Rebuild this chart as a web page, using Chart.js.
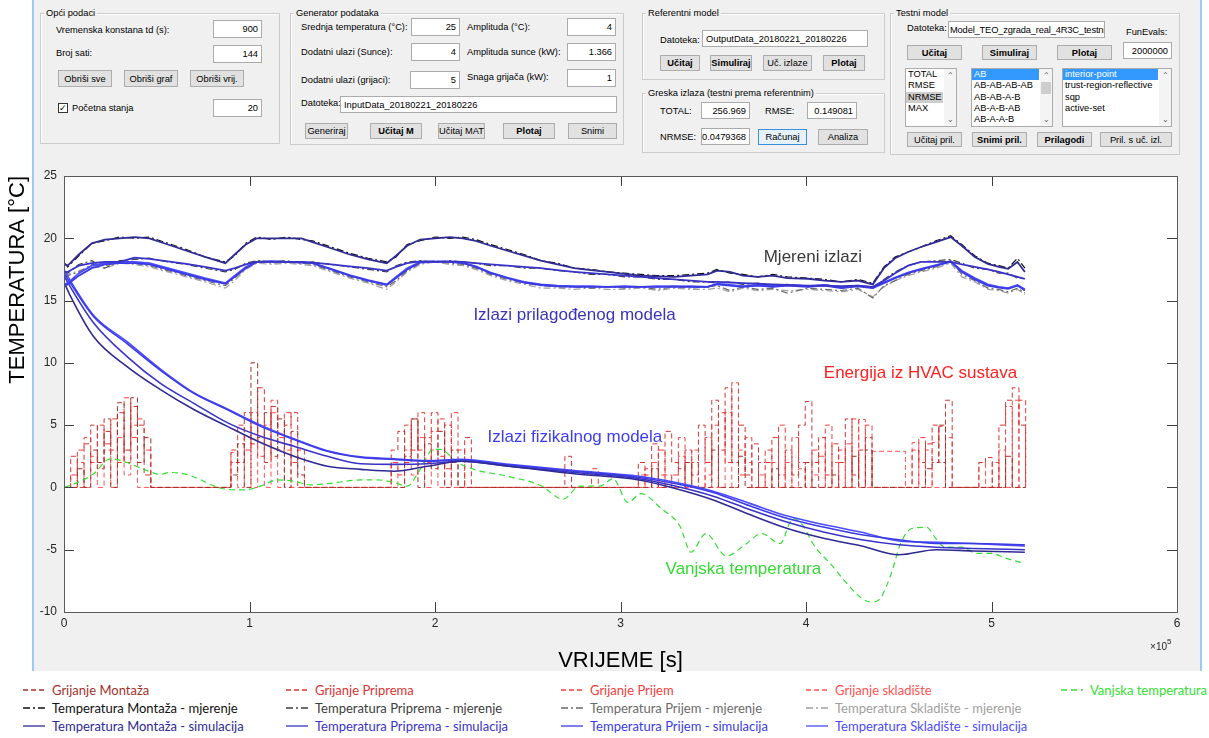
<!DOCTYPE html>
<html>
<head>
<meta charset="utf-8">
<title>Testni model</title>
<script src="https://cdn.jsdelivr.net/npm/chart.js@4.4.1/dist/chart.umd.min.js"></script>
<style>
  body { margin:0; width:1209px; height:738px; position:relative; overflow:hidden; background:#fff; font-family:"Liberation Sans", Arial, sans-serif; color:#000; }
  #win { position:absolute; left:32px; top:0; width:1170px; height:671px; background:#f0f0f0; border-left:2px solid #9ccaf2; border-right:2px solid #9ccaf2; box-sizing:border-box; }
  .panel { position:absolute; border:1px solid #cbcbcb; box-shadow:inset 1px 1px 0 #fff; }
  .panel > span { position:absolute; left:3px; top:-7px; padding:0 2px; background:#f0f0f0; font-size:9.3px; line-height:12px; white-space:nowrap; }
  .lbl { position:absolute; font-size:9.3px; line-height:12px; white-space:nowrap; }
  .ed { position:absolute; background:#fff; border:1px solid #ababab; box-sizing:border-box; font-size:9.3px; padding:0 3px; white-space:nowrap; overflow:hidden; display:flex; align-items:center; justify-content:flex-end; }
  .ed.l { justify-content:flex-start; }
  .ed.n { padding:0 1px; letter-spacing:-0.15px; }
  .bt { position:absolute; background:#e1e1e1; border:1px solid #adadad; box-sizing:border-box; font-size:9.3px; display:flex; align-items:center; justify-content:center; white-space:nowrap; }
  .bt.b { font-weight:bold; }
  .bt.f { border-color:#3c8fd8; background:#e5f1fb; }
  .lb { position:absolute; background:#fff; border:1px solid #ababab; box-sizing:border-box; font-size:9.3px; line-height:11.3px; overflow:hidden; }
  .lb div.it { padding-left:2px; white-space:nowrap; margin-right:13px; }
  .lb .s { background:#3399ff; color:#fff; }
  .lb .g { background:#cdcdcd; }
  .sb { position:absolute; right:0; top:0; width:12px; height:100%; background:#f4f4f4; font-size:8px; color:#606060; }
  .sb .up { position:absolute; top:1px; width:12px; text-align:center; }
  .sb .dn { position:absolute; bottom:1px; width:12px; text-align:center; }
  .sb .th { position:absolute; top:13px; left:1px; width:10px; height:12px; background:#cdcdcd; }
  .cb { position:absolute; width:10px; height:10px; border:1px solid #333; background:#fff; box-sizing:border-box; font-size:9px; line-height:8px; text-align:center; }
  #c { position:absolute; left:0; top:155px; }
  .lg { position:absolute; font-family:Lato, "Liberation Sans", sans-serif; font-size:13px; line-height:16px; white-space:nowrap; }
  .lg svg { position:absolute; left:0; top:6px; }
  .lg span { position:absolute; left:30px; top:0; }
</style>
</head>
<body>
<div id="win"></div>

<!-- Opći podaci -->
<div class="panel" style="left:40px;top:13px;width:238px;height:129px;"><span>Opći podaci</span></div>
<div class="lbl" style="left:56px;top:24px;">Vremenska konstana td (s):</div>
<div class="ed" style="left:213px;top:20px;width:49px;height:18px;">900</div>
<div class="lbl" style="left:56px;top:47px;">Broj sati:</div>
<div class="ed" style="left:213px;top:45px;width:49px;height:18px;">144</div>
<div class="bt" style="left:58px;top:70px;width:54px;height:17px;">Obriši sve</div>
<div class="bt" style="left:124px;top:70px;width:54px;height:17px;">Obriši graf</div>
<div class="bt" style="left:190px;top:70px;width:54px;height:17px;">Obriši vrij.</div>
<div class="cb" style="left:58px;top:103px;">&#10003;</div>
<div class="lbl" style="left:72px;top:102px;">Početna stanja</div>
<div class="ed" style="left:213px;top:99px;width:49px;height:18px;">20</div>

<!-- Generator podataka -->
<div class="panel" style="left:290px;top:13px;width:332px;height:130px;"><span>Generator podataka</span></div>
<div class="lbl" style="left:301px;top:21px;">Srednja temperatura (°C):</div>
<div class="ed" style="left:411px;top:18px;width:49px;height:18px;">25</div>
<div class="lbl" style="left:467px;top:21px;">Amplituda (°C):</div>
<div class="ed" style="left:567px;top:18px;width:49px;height:18px;">4</div>
<div class="lbl" style="left:301px;top:46px;">Dodatni ulazi (Sunce):</div>
<div class="ed" style="left:411px;top:43px;width:49px;height:18px;">4</div>
<div class="lbl" style="left:467px;top:46px;">Amplituda sunce (kW):</div>
<div class="ed" style="left:567px;top:43px;width:49px;height:18px;">1.366</div>
<div class="lbl" style="left:301px;top:74px;">Dodatni ulazi (grijaci):</div>
<div class="ed" style="left:410px;top:71px;width:50px;height:18px;">5</div>
<div class="lbl" style="left:467px;top:71px;">Snaga grijača (kW):</div>
<div class="ed" style="left:567px;top:69px;width:49px;height:18px;">1</div>
<div class="lbl" style="left:301px;top:97px;">Datoteka:</div>
<div class="ed l" style="left:340px;top:96px;width:277px;height:17px;">InputData_20180221_20180226</div>
<div class="bt" style="left:305px;top:123px;width:43px;height:16px;">Generiraj</div>
<div class="bt b" style="left:370px;top:123px;width:52px;height:16px;">Učitaj M</div>
<div class="bt" style="left:438px;top:123px;width:47px;height:16px;">Učitaj MAT</div>
<div class="bt b" style="left:503px;top:123px;width:52px;height:16px;">Plotaj</div>
<div class="bt" style="left:568px;top:123px;width:49px;height:16px;">Snimi</div>

<!-- Referentni model -->
<div class="panel" style="left:642px;top:13px;width:241px;height:65px;"><span>Referentni model</span></div>
<div class="lbl" style="left:660px;top:34px;">Datoteka:</div>
<div class="ed l" style="left:702px;top:30px;width:166px;height:17px;">OutputData_20180221_20180226</div>
<div class="bt b" style="left:660px;top:55px;width:40px;height:16px;">Učitaj</div>
<div class="bt b" style="left:710px;top:55px;width:42px;height:16px;">Simuliraj</div>
<div class="bt" style="left:763px;top:55px;width:49px;height:16px;">Uč. izlaze</div>
<div class="bt b" style="left:823px;top:55px;width:42px;height:16px;">Plotaj</div>

<!-- Greska izlaza -->
<div class="panel" style="left:642px;top:93px;width:241px;height:58px;"><span>Greska izlaza (testni prema referentnim)</span></div>
<div class="lbl" style="left:660px;top:105px;">TOTAL:</div>
<div class="ed" style="left:701px;top:102px;width:49px;height:17px;">256.969</div>
<div class="lbl" style="left:765px;top:105px;">RMSE:</div>
<div class="ed" style="left:807px;top:102px;width:50px;height:17px;">0.149081</div>
<div class="lbl" style="left:660px;top:131px;">NRMSE:</div>
<div class="ed" style="left:701px;top:128px;width:49px;height:17px;">0.0479368</div>
<div class="bt f" style="left:758px;top:129px;width:49px;height:16px;">Računaj</div>
<div class="bt" style="left:818px;top:129px;width:50px;height:16px;">Analiza</div>

<!-- Testni model -->
<div class="panel" style="left:890px;top:13px;width:288px;height:140px;"><span>Testni model</span></div>
<div class="lbl" style="left:907px;top:22px;">Datoteka:</div>
<div class="ed l n" style="left:948px;top:21px;width:157px;height:17px;">Model_TEO_zgrada_real_4R3C_testni</div>
<div class="lbl" style="left:1126px;top:26px;">FunEvals:</div>
<div class="bt b" style="left:907px;top:45px;width:55px;height:15px;">Učitaj</div>
<div class="bt b" style="left:982px;top:45px;width:55px;height:15px;">Simuliraj</div>
<div class="bt b" style="left:1057px;top:45px;width:55px;height:15px;">Plotaj</div>
<div class="ed" style="left:1123px;top:42px;width:49px;height:17px;">2000000</div>
<div class="lb" style="left:905px;top:68px;width:52px;height:59px;">
  <div class="it">TOTAL</div><div class="it">RMSE</div><div class="it g">NRMSE</div><div class="it">MAX</div>
  <div class="sb"><div class="up">&#8963;</div><div class="dn">&#8964;</div></div>
</div>
<div class="lb" style="left:971px;top:68px;width:82px;height:59px;">
  <div class="it s">AB</div><div class="it">AB-AB-AB-AB</div><div class="it">AB-AB-A-B</div><div class="it">AB-A-B-AB</div><div class="it">AB-A-A-B</div>
  <div class="sb"><div class="up">&#8963;</div><div class="th"></div><div class="dn">&#8964;</div></div>
</div>
<div class="lb" style="left:1062px;top:68px;width:110px;height:59px;">
  <div class="it s">interior-point</div><div class="it">trust-region-reflective</div><div class="it">sqp</div><div class="it">active-set</div>
  <div class="sb"><div class="up">&#8963;</div><div class="dn">&#8964;</div></div>
</div>
<div class="bt" style="left:907px;top:132px;width:55px;height:15px;">Učitaj pril.</div>
<div class="bt b" style="left:972px;top:132px;width:55px;height:15px;">Snimi pril.</div>
<div class="bt b" style="left:1037px;top:132px;width:55px;height:15px;">Prilagodi</div>
<div class="bt" style="left:1100px;top:132px;width:72px;height:15px;">Pril. s uč. izl.</div>

<canvas id="c" width="1209" height="520"></canvas>
<div id="legend"></div>

<script>
// room temperatures (fitted model + measurements), time in 10^5 s
var tRoom = [0, 0.02, 0.08, 0.15, 0.22, 0.30, 0.38, 0.46, 0.56, 0.66, 0.76, 0.87,
  0.92, 0.98, 1.04, 1.12, 1.20, 1.28, 1.34, 1.44, 1.54, 1.64, 1.74,
  1.79, 1.85, 1.92, 2.00, 2.08, 2.15,
  2.22, 2.30, 2.39, 2.48, 2.57, 2.66, 2.75, 2.84, 2.93,
  3.02, 3.11, 3.20, 3.29, 3.38, 3.47,
  3.52, 3.59, 3.66, 3.74, 3.82, 3.90,
  4.01, 4.10, 4.19, 4.28, 4.36,
  4.42, 4.48, 4.55, 4.62, 4.70, 4.78,
  4.84, 4.91, 4.98, 5.04, 5.09, 5.14, 5.18];

var simMontaza = [18.0, 17.8, 18.7, 19.6, 19.9, 20.0, 20.1, 20.0, 19.5, 19.0, 18.5, 18.0,
  18.7, 19.5, 20.0, 20.0, 20.0, 20.0, 19.7, 19.2, 18.7, 18.3, 18.0,
  18.6, 19.4, 19.9, 20.0, 20.1, 20.0,
  19.8, 19.4, 19.0, 18.6, 18.2, 17.9, 17.6, 17.45, 17.3,
  17.15, 17.0, 16.95, 16.9, 17.0, 17.1,
  17.4, 17.3, 17.0, 16.9, 17.0, 16.8,
  16.75, 16.6, 16.5, 16.6, 16.3,
  17.6, 18.4, 18.9, 19.3, 19.7, 20.1,
  19.4, 18.5, 17.95, 17.7, 17.55, 18.1, 17.3];
var mjMontaza = [18.0, 17.7, 18.6, 19.6, 19.8, 20.1, 20.0, 20.1, 19.6, 19.1, 18.5, 18.1,
  18.6, 19.6, 20.1, 19.9, 20.1, 19.9, 19.8, 19.3, 18.8, 18.4, 18.1,
  18.5, 19.5, 19.8, 20.1, 20.0, 20.1,
  19.9, 19.5, 19.1, 18.7, 18.2, 18.0, 17.6, 17.5, 17.3,
  17.2, 17.1, 17.0, 17.0, 17.1, 17.2,
  17.5, 17.2, 17.1, 16.9, 17.1, 16.9,
  16.8, 16.7, 16.5, 16.7, 16.4,
  17.7, 18.5, 18.9, 19.3, 19.8, 20.2,
  19.5, 18.6, 18.0, 17.8, 17.6, 18.4, 17.6];
var simPriprema = [17.3, 17.3, 17.8, 18.0, 18.1, 18.1, 18.45, 18.35, 18.15, 17.95, 17.7, 17.4,
  17.6, 17.9, 18.1, 18.15, 18.1, 18.1, 18.05, 17.9, 17.75, 17.6, 17.4,
  17.7, 18.0, 18.15, 18.1, 18.15, 18.1,
  18.0, 17.9, 17.8, 17.7, 17.6, 17.45, 17.3, 17.2, 17.1,
  17.0, 16.9, 16.8, 16.7, 16.6, 16.5,
  16.5, 16.45, 16.4, 16.35, 16.3, 16.25,
  16.2, 16.2, 16.15, 16.2, 16.1,
  16.6, 17.2, 17.8, 18.1, 18.1, 18.1,
  17.9, 17.7, 17.5, 17.3, 17.1, 16.9, 16.75];
var mjPriprema = [17.3, 17.2, 17.9, 18.2, 17.6, 18.2, 18.3, 18.4, 18.1, 17.9, 17.6, 17.3,
  17.5, 18.0, 18.2, 18.1, 18.2, 18.0, 18.1, 17.9, 17.7, 17.5, 17.3,
  17.8, 18.1, 18.2, 18.1, 18.2, 18.1,
  18.0, 17.8, 17.8, 17.6, 17.6, 17.4, 17.3, 17.1, 17.1,
  16.9, 16.9, 16.7, 16.7, 16.5, 16.5,
  16.4, 16.5, 16.3, 16.4, 16.2, 16.3,
  16.1, 16.3, 16.0, 16.2, 16.0,
  16.7, 17.3, 17.8, 18.1, 18.2, 18.3,
  18.0, 17.6, 17.5, 17.2, 17.2, 16.8, 16.8];
var simPrijem = [16.2, 16.3, 17.0, 17.6, 17.9, 18.0, 18.0, 17.9, 17.5, 17.1, 16.7, 16.35,
  16.9, 17.6, 18.1, 18.1, 18.1, 18.05, 18.0, 17.5, 17.0, 16.6, 16.25,
  16.8, 17.5, 18.05, 18.1, 18.1, 18.0,
  17.7, 17.2, 16.8, 16.45, 16.25, 16.15, 16.1, 16.1, 16.1,
  16.1, 16.1, 16.1, 16.15, 16.1, 16.1,
  16.3, 16.2, 16.1, 16.2, 16.1, 16.2,
  16.1, 16.2, 16.0, 16.15, 16.0,
  16.4, 16.8, 17.2, 17.5, 17.8, 18.1,
  17.3, 16.7, 16.2, 16.05, 15.95, 16.2, 15.8];
var mjPrijem = [16.9, 17.0, 17.3, 17.9, 17.8, 18.1, 18.0, 17.8, 17.4, 17.0, 16.6, 16.2,
  16.8, 17.6, 18.2, 18.0, 18.1, 18.0, 17.9, 17.4, 16.9, 16.5, 16.1,
  16.6, 17.4, 18.0, 18.2, 18.0, 17.9,
  17.6, 17.1, 16.7, 16.4, 16.2, 16.1, 16.1, 16.0, 16.1,
  16.0, 16.1, 15.9, 16.1, 16.0, 16.1,
  16.2, 15.8, 16.1, 15.9, 16.0, 15.6,
  16.0, 15.9, 15.8, 16.0, 15.2,
  16.2, 16.6, 17.1, 17.4, 17.7, 18.2,
  17.1, 16.6, 16.0, 15.9, 15.7, 16.0, 15.6];
var simSkladiste = [16.3, 16.4, 17.2, 17.8, 18.0, 18.1, 18.1, 18.0, 17.6, 17.2, 16.8, 16.4,
  17.0, 17.7, 18.1, 18.15, 18.1, 18.1, 18.0, 17.55, 17.05, 16.65, 16.3,
  16.9, 17.6, 18.1, 18.15, 18.1, 18.05,
  17.75, 17.25, 16.85, 16.5, 16.3, 16.2, 16.15, 16.15, 16.1,
  16.15, 16.1, 16.15, 16.1, 16.15, 16.1,
  16.35, 16.25, 16.15, 16.25, 16.15, 16.25,
  16.15, 16.25, 16.05, 16.2, 16.05,
  16.45, 16.85, 17.25, 17.55, 17.85, 18.15,
  17.4, 16.8, 16.3, 16.1, 16.0, 16.25, 15.9];
var mjSkladiste = [17.2, 17.1, 17.4, 17.7, 17.6, 18.0, 17.9, 17.7, 17.3, 16.9, 16.5, 16.0,
  16.6, 17.5, 18.0, 17.9, 18.0, 17.9, 17.8, 17.3, 16.8, 16.4, 15.9,
  16.5, 17.3, 17.9, 18.1, 17.9, 17.8,
  17.5, 17.0, 16.6, 16.3, 16.0, 16.0, 15.9, 16.0, 15.9,
  15.9, 16.0, 15.8, 16.0, 15.9, 15.9,
  16.0, 15.7, 16.0, 15.8, 15.9, 15.8,
  15.9, 15.8, 15.7, 15.9, 15.3,
  16.1, 16.6, 17.0, 17.3, 17.6, 18.0,
  16.9, 16.5, 15.9, 15.8, 15.6, 15.9, 15.5];

// physical model outputs, time in 10^5 s
var tPhys = [0, 0.03, 0.16, 0.34, 0.52, 0.70, 0.88, 1.06, 1.24, 1.42, 1.60, 1.78, 1.96, 2.14,
  2.40, 2.75, 3.10, 3.30, 3.50, 3.70, 3.90, 4.10, 4.30, 4.50, 4.70, 4.90, 5.18];
var fizMontaza = [16.5, 15.5, 12.1, 9.7, 7.85, 6.25, 4.9, 3.6, 2.5, 1.7, 1.45, 1.3, 1.7, 2.1,
  1.7, 1.1, 0.6, -0.1, -1.0, -2.2, -3.3, -4.1, -4.7, -5.4, -5.0, -5.1, -5.2];
var fizPriprema = [17.0, 16.2, 13.2, 10.5, 8.35, 6.75, 5.2, 4.1, 3.3, 2.5, 1.9, 1.85, 1.9, 2.1,
  1.7, 1.2, 0.7, 0.1, -0.7, -1.8, -2.8, -3.6, -4.2, -4.6, -4.8, -4.9, -5.0];
var fizPrijem = [17.2, 16.5, 13.7, 11.55, 9.4, 7.55, 6.25, 4.9, 3.85, 2.9, 2.4, 2.25, 2.1, 2.2,
  1.8, 1.3, 0.8, 0.3, -0.4, -1.5, -2.5, -3.2, -3.8, -4.2, -4.5, -4.5, -4.6];
var fizSkladiste = [17.5, 16.7, 13.8, 11.7, 9.5, 7.6, 6.3, 5.0, 3.9, 2.95, 2.45, 2.3, 2.15, 2.25,
  1.85, 1.35, 0.9, 0.4, -0.3, -1.3, -2.3, -3.0, -3.6, -4.3, -4.4, -4.5, -4.7];

// outside temperature, time in 10^5 s
var tVanjska = [0, 0.05, 0.16, 0.25, 0.34, 0.43, 0.52, 0.57, 0.66, 0.73, 0.81, 0.88, 0.97, 1.06,
  1.15, 1.24, 1.33, 1.42, 1.60, 1.69, 1.78, 1.85, 1.92, 1.99, 2.03, 2.12, 2.21, 2.39, 2.57,
  2.69, 2.78, 2.89, 2.96, 3.04, 3.11, 3.22, 3.32, 3.38, 3.46, 3.57, 3.68, 3.76, 3.86, 3.93,
  3.97, 4.05, 4.13, 4.22, 4.30, 4.35, 4.40, 4.46, 4.51, 4.57, 4.65, 4.70, 4.75, 4.84, 4.92,
  5.00, 5.08, 5.18];
var vanjska = [0, 0.25, 1.1, 2.3, 2.0, 1.45, 1.05, 1.2, 1.05, 0.66, 0.1, -0.15, -0.2, 0.1,
  0.6, 0.5, 0.2, 0.3, 0.6, 0.6, 0.4, 0.1, 1.45, 3.05, 3.05, 2.0, 1.45, 0.9, 0.15,
  -0.95, 0.1, 0.1, 0.7, -1.2, -0.5, -1.7, -3.1, -5.2, -3.7, -5.5, -4.5, -3.7, -4.5, -2.5,
  -2.8, -4.8, -6.1, -7.7, -8.9, -9.2, -8.9, -6.9, -4.5, -3.3, -3.2, -4.1, -4.8, -4.8, -5.3,
  -5.3, -5.7, -6.1];

// heating energy, one value per hour (0..144 h)
var grijMontaza = [
  0, 0, 1.5, 0, 3, 2, 4.5, 0, 6.8, 3, 7.2, 2,
  4, 0, 0, 0, 0, 0, 0, 0, 0, 0, 0, 0,
  0, 1, 3.5, 0, 10, 4, 6, 2.5, 5.5, 0, 4.5, 1,
  0, 0, 0, 0, 0, 0, 0, 0, 0, 0, 0, 0,
  0, 0, 0, 2.5, 5.5, 0, 3.5, 1.5, 4.5, 0, 3, 0,
  0, 0, 0, 0, 0, 0, 0, 0, 0, 0, 0, 0,
  0, 0, 0, 0, 0, 0, 0, 0, 0, 0, 0, 0,
  0, 0, 0, 0, 1.5, 0, 0, 0, 0, 2, 0, 0,
  0, 3, 0, 0, 0, 2.5, 0, 0, 0, 0, 1.5, 0,
  0, 0, 0, 2, 0, 0, 0, 1, 0, 0, 2.5, 0,
  3, 0, 0, 0, 0, 0, 0, 0, 0, 1.5, 2, 5,
  0, 0, 0, 0, 0, 0, 0, 0, 0, 2.5, 0, 0,
  0];
var grijPriprema = [
  0, 2.5, 0, 3.5, 5, 1.5, 5.5, 3, 6, 2, 6.5, 5,
  1, 0, 0, 0, 0, 0, 0, 0, 0, 0, 0, 0,
  0, 3, 2, 6, 3.5, 8, 2, 6.5, 3, 5, 6, 0,
  0, 0, 0, 0, 0, 0, 0, 0, 0, 0, 0, 0,
  0, 3, 4.5, 2, 5.5, 3, 4, 6, 2.5, 5, 2, 0,
  4, 0, 0, 0, 0, 0, 0, 0, 0, 0, 0, 0,
  0, 0, 0, 2.5, 0, 0, 0, 0, 0, 0, 0, 0,
  0, 0, 2, 1, 3.5, 1, 4.5, 2, 1.5, 3, 1, 5,
  2, 7, 3, 8, 2, 5, 1, 3.5, 0, 2, 4, 1,
  3, 1, 5, 6.9, 2, 4, 1, 3.5, 2, 5.5, 1, 3,
  4, 0, 0, 0, 0, 0, 0, 3, 2, 3.5, 5, 2,
  7, 0, 0, 0, 0, 2, 2.4, 0, 5, 7, 8, 5,
  0];
var grijPrijem = [
  0, 1, 3, 4, 2, 5, 3.5, 5.5, 2, 7.2, 4, 5.5,
  3, 0, 0, 0, 0, 0, 0, 0, 0, 0, 0, 0,
  0, 2, 5, 3, 6, 2.5, 5, 7, 4, 6, 2, 3,
  0, 0, 0, 0, 0, 0, 0, 0, 0, 0, 0, 0,
  0, 2, 1, 5, 3, 6, 2, 4.5, 5.5, 1.5, 6, 3,
  0, 0, 0, 0, 0, 0, 0, 0, 0, 0, 0, 0,
  0, 0, 0, 0, 0, 0, 0, 1.5, 0, 0, 0, 0,
  0, 0, 0, 1.5, 0, 3, 0, 1, 4, 0, 2, 0,
  4, 0, 6, 2, 8.4, 1, 4, 0, 2, 3, 0, 5,
  0, 4, 2, 0, 3, 0, 5, 0, 3, 0, 5.5, 0,
  5, 0, 0, 0, 0, 0, 0, 0, 4, 0, 3.6, 4.9,
  0, 0, 0, 0, 0, 0, 0, 2, 0, 6.5, 0, 7,
  0];
var grijSkladiste = [
  0, 0, 2, 0, 2.5, 0, 3, 0, 4, 1, 5, 0,
  0, 0, 0, 0, 0, 0, 0, 0, 0, 0, 0, 0,
  0, 2.8, 0, 4, 0, 5, 0, 6, 0, 3, 0, 0,
  0, 0, 0, 0, 0, 0, 0, 0, 0, 0, 0, 0,
  0, 2, 0, 3, 1, 4, 0, 3, 0, 2, 0, 0,
  0, 0, 0, 0, 0, 0, 0, 0, 0, 0, 0, 0,
  0, 0, 0, 0, 0, 0, 0, 0, 0, 0, 0, 0,
  0, 0, 1, 0, 2, 0, 1, 0, 2.5, 0, 3, 0,
  1, 5, 0, 6, 0, 3, 2, 0, 1, 0, 2, 0,
  2, 0, 1.5, 0, 1, 2.5, 0, 2, 0, 3.5, 0, 5.45,
  0, 2.9, 2.9, 2.9, 2.9, 2.9, 0, 3.6, 0, 3, 0, 0,
  4, 0, 0, 0, 0, 2, 0, 0, 3, 0, 7, 0,
  0];

// text notes drawn inside the axes
var noteText = ['Mjereni izlazi', 'Izlazi prilagođenog modela', 'Energija iz HVAC sustava', 'Izlazi fizikalnog modela', 'Vanjska temperatura'];
var noteX = [3.772e5, 2.207e5, 4.096e5, 2.283e5, 3.243e5];
var noteY = [18.46, 13.83, 9.2, 4.01, -6.6];
var noteColor = ['#3a3a3a', '#3a34b8', '#ff2020', '#3d3df0', '#33dd33'];

var xTicks = [0, 1, 2, 3, 4, 5, 6];

function pts(t, v) {
  return v.map(function (y, i) { return { x: t[i] * 1e5, y: y }; });
}
function hourly(v) {
  return v.map(function (y, i) { return { x: i * 3600, y: y }; });
}

var dashHeat = [5, 3];
var dashMeas = [7, 3, 2, 3];

var datasets = [
  // fitted model (solid)
  { label: 'Temperatura Montaža - simulacija', data: pts(tRoom, simMontaza), borderColor: '#2f2a94', borderWidth: 1.8, order: 1, lg: [0, 2] },
  { label: 'Temperatura Priprema - simulacija', data: pts(tRoom, simPriprema), borderColor: '#3a33c8', borderWidth: 1.8, order: 1, lg: [1, 2] },
  { label: 'Temperatura Prijem - simulacija', data: pts(tRoom, simPrijem), borderColor: '#3b3be6', borderWidth: 1.8, order: 1, lg: [2, 2] },
  { label: 'Temperatura Skladište - simulacija', data: pts(tRoom, simSkladiste), borderColor: '#4b4bff', borderWidth: 1.8, order: 1, lg: [3, 2] },
  // measurements
  { label: 'Temperatura Montaža - mjerenje', data: pts(tRoom, mjMontaza), borderColor: '#111111', borderWidth: 1.2, borderDash: dashMeas, order: 2, lg: [0, 1] },
  { label: 'Temperatura Priprema - mjerenje', data: pts(tRoom, mjPriprema), borderColor: '#3d3d3d', borderWidth: 1.2, borderDash: dashMeas, order: 2, lg: [1, 1] },
  { label: 'Temperatura Prijem - mjerenje', data: pts(tRoom, mjPrijem), borderColor: '#6b6b6b', borderWidth: 1.2, borderDash: dashMeas, order: 2, lg: [2, 1] },
  { label: 'Temperatura Skladište - mjerenje', data: pts(tRoom, mjSkladiste), borderColor: '#a0a0a0', borderWidth: 1.2, borderDash: dashMeas, order: 2, lg: [3, 1] },
  // physical model (not in legend)
  { label: 'fiz Montaža', data: pts(tPhys, fizMontaza), borderColor: '#2f2a94', borderWidth: 1.6, cubicInterpolationMode: 'monotone', order: 1 },
  { label: 'fiz Priprema', data: pts(tPhys, fizPriprema), borderColor: '#3a33c8', borderWidth: 1.6, cubicInterpolationMode: 'monotone', order: 1 },
  { label: 'fiz Prijem', data: pts(tPhys, fizPrijem), borderColor: '#3b3be6', borderWidth: 1.6, cubicInterpolationMode: 'monotone', order: 1 },
  { label: 'fiz Skladište', data: pts(tPhys, fizSkladiste), borderColor: '#4b4bff', borderWidth: 1.6, cubicInterpolationMode: 'monotone', order: 1 },
  // outside
  { label: 'Vanjska temperatura', data: pts(tVanjska, vanjska), borderColor: '#33e033', borderWidth: 1.2, borderDash: [6, 4], cubicInterpolationMode: 'monotone', order: 3, lg: [4, 0] },
  // heating
  { label: 'Grijanje Montaža', data: hourly(grijMontaza), borderColor: '#a3312c', borderWidth: 1, borderDash: dashHeat, borderDashOffset: 0, stepped: true, order: 4, lg: [0, 0] },
  { label: 'Grijanje Priprema', data: hourly(grijPriprema), borderColor: '#d83434', borderWidth: 1, borderDash: dashHeat, borderDashOffset: 2, stepped: true, order: 4, lg: [1, 0] },
  { label: 'Grijanje Prijem', data: hourly(grijPrijem), borderColor: '#f23c3c', borderWidth: 1, borderDash: dashHeat, borderDashOffset: 4, stepped: true, order: 4, lg: [2, 0] },
  { label: 'Grijanje skladište', data: hourly(grijSkladiste), borderColor: '#ff5252', borderWidth: 1, borderDash: dashHeat, borderDashOffset: 6, stepped: true, order: 4, lg: [3, 0] }
];
datasets.forEach(function (d) { d.pointRadius = 0; d.fill = false; });

var tickFont = { family: '"Liberation Sans", Arial, sans-serif', size: 12 };
var titleFont = { family: '"Liberation Sans", Arial, sans-serif', size: 22 };

// white plot area
var plotBg = {
  id: 'plotBg',
  beforeDraw: function (chart) {
    var a = chart.chartArea, c = chart.ctx;
    c.save();
    c.fillStyle = '#ffffff';
    c.fillRect(a.left, a.top, a.right - a.left, a.bottom - a.top);
    c.restore();
  }
};

// MATLAB style box with inward ticks on all sides, notes and x10^5
var axesBox = {
  id: 'axesBox',
  afterDatasetsDraw: function (chart) {
    var a = chart.chartArea, c = chart.ctx, xs = chart.scales.x, ys = chart.scales.y;
    c.save();
    c.strokeStyle = '#404040';
    c.lineWidth = 1;
    c.beginPath();
    xs.ticks.forEach(function (t) {
      var px = Math.round(xs.getPixelForValue(t.value)) + 0.5;
      c.moveTo(px, a.bottom); c.lineTo(px, a.bottom - 10);
      c.moveTo(px, a.top); c.lineTo(px, a.top + 10);
    });
    ys.ticks.forEach(function (t) {
      var py = Math.round(ys.getPixelForValue(t.value)) + 0.5;
      c.moveTo(a.left, py); c.lineTo(a.left + 10, py);
      c.moveTo(a.right, py); c.lineTo(a.right - 10, py);
    });
    c.stroke();
    c.strokeStyle = '#5a5a5a';
    c.strokeRect(Math.round(a.left) + 0.5, Math.round(a.top) + 0.5, Math.round(a.right - a.left), Math.round(a.bottom - a.top));

    c.font = '17px "Liberation Sans", Arial, sans-serif';
    c.textBaseline = 'middle';
    c.textAlign = 'left';
    noteText.forEach(function (txt, i) {
      c.fillStyle = noteColor[i];
      c.fillText(txt, xs.getPixelForValue(noteX[i]), ys.getPixelForValue(noteY[i]));
    });

    c.fillStyle = '#262626';
    c.textAlign = 'right';
    c.font = '10px "Liberation Sans", Arial, sans-serif';
    c.fillText('\u00d710', a.right - 10, a.bottom + 35);
    c.font = '8px "Liberation Sans", Arial, sans-serif';
    c.textAlign = 'left';
    c.fillText('5', a.right - 10, a.bottom + 30);
    c.restore();
  }
};

var chart = new Chart(document.getElementById('c'), {
  type: 'line',
  data: { datasets: datasets },
  options: {
    responsive: false,
    animation: false,
    devicePixelRatio: 1,
    layout: { padding: { left: 0, right: 32, top: 21, bottom: 0 } },
    plugins: { legend: { display: false }, tooltip: { enabled: false } },
    scales: {
      x: {
        type: 'linear', min: 0, max: 600000,
        afterBuildTicks: function (s) { s.ticks = xTicks.map(function (v) { return { value: v * 1e5 }; }); },
        ticks: { color: '#262626', font: tickFont, padding: 4, maxRotation: 0,
          callback: function (v) { return v / 1e5; } },
        grid: { display: false, drawTicks: false },
        border: { display: false },
        title: { display: true, text: 'VRIJEME [s]', color: '#000', padding: { top: 0, bottom: 1 }, font: titleFont },
        afterFit: function (s) { s.height = 63; }
      },
      y: {
        min: -10, max: 25,
        ticks: { stepSize: 5, color: '#262626', font: tickFont, padding: 7 },
        grid: { display: false, drawTicks: false },
        border: { display: false },
        title: { display: true, text: 'TEMPERATURA [°C]', align: 'end', color: '#000', padding: { top: 5, bottom: 0 }, font: titleFont },
        afterFit: function (s) { s.width = 64; }
      }
    }
  },
  plugins: [plotBg, axesBox]
});

// legend below the figure, built from the chart datasets
var legendColX = [22, 285, 560, 805, 1060];
var legendRowY = [682, 700, 718];
var box = document.getElementById('legend');
chart.data.datasets.forEach(function (d) {
  if (!d.lg) return;
  var el = document.createElement('div');
  el.className = 'lg';
  el.style.left = legendColX[d.lg[0]] + 'px';
  el.style.top = legendRowY[d.lg[1]] + 'px';
  var dash = d.borderDash ? d.borderDash.join(',') : 'none';
  el.innerHTML = '<svg width="24" height="4"><line x1="1" y1="2" x2="23" y2="2" stroke="' + d.borderColor +
    '" stroke-width="1.3" stroke-dasharray="' + dash + '"/></svg><span style="color:' + d.borderColor + '">' + d.label + '</span>';
  box.appendChild(el);
});
</script>
</body>
</html>
